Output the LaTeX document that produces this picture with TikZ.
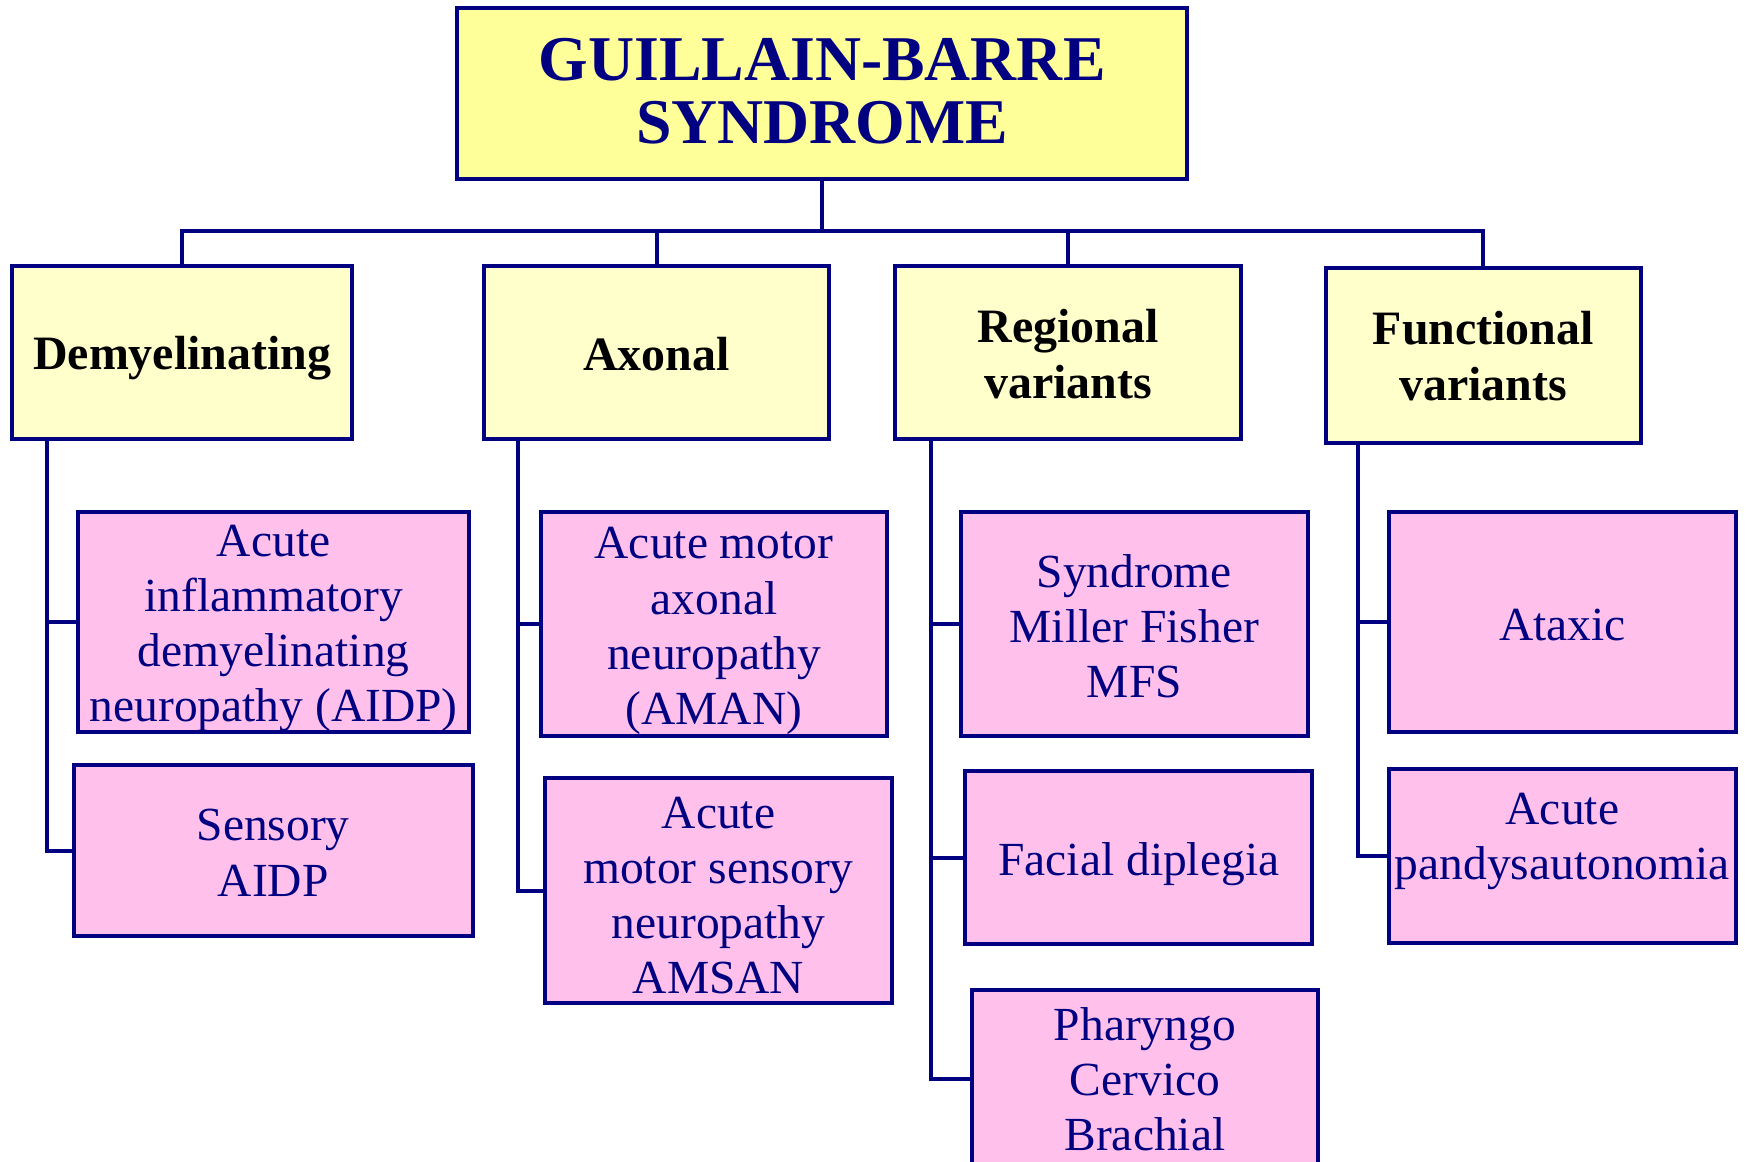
\documentclass[tikz,border=0pt]{standalone}
\usepackage{fontspec}
\setmainfont{Liberation Serif}
\definecolor{navy}{RGB}{0,0,128}
\definecolor{titlefill}{RGB}{255,255,153}
\definecolor{headfill}{RGB}{255,255,204}
\definecolor{pinkfill}{RGB}{255,193,235}
\tikzset{
  basebox/.style={draw=navy, line width=1.8pt, rectangle, inner sep=0pt},
  titlebox/.style={basebox, fill=titlefill},
  headbox/.style={basebox, fill=headfill},
  pinkbox/.style={basebox, fill=pinkfill},
  titletext/.style={text=navy, align=center, inner sep=0pt, font=\fontsize{28.6}{28}\selectfont\bfseries},
  headtext/.style={text=black, align=center, inner sep=0pt, font=\fontsize{21.5}{25}\selectfont\bfseries},
  pinktext/.style={text=navy, align=center, inner sep=0pt, font=\fontsize{21.3}{24.7}\selectfont},
  conn/.style={draw=navy, line width=1.8pt, line join=miter}
}
\begin{document}
\begin{tikzpicture}[x=0.5pt, y=-0.5pt]
\useasboundingbox (0,0) rectangle (1568,1042);
\fill[white] (0,0) rectangle (1568,1042);

% title
\node[titlebox, minimum width=327.5pt, minimum height=77pt] (title) at (737.5,84) {};
\node[titletext] (titleT) at (737.5,82) {GUILLAIN-BARRE\\SYNDROME};

% headers
\node[headbox, minimum width=152.5pt, minimum height=77.5pt] (h1) at (163.5,316.5) {};
\node[headbox, minimum width=155pt, minimum height=77.5pt] (h2) at (589,316.5) {};
\node[headbox, minimum width=155pt, minimum height=77.5pt] (h3) at (958,316.5) {};
\node[headbox, minimum width=141.5pt, minimum height=78.5pt] (h4) at (1330.5,318.5) {};
\node[headtext] (h1T) at (163.5,321) {Demyelinating};
\node[headtext] (h2T) at (589,318) {Axonal};
\node[headtext] (h3T) at (958,317.5) {Regional\\variants};
\node[headtext] (h4T) at (1330.5,319.5) {Functional\\variants};

% bus
\coordinate (bus) at (737.5,207);
\draw[conn] (title.south) -- (bus);
\draw[conn] (h1.north) |- (bus);
\draw[conn] (h2.north) |- (bus);
\draw[conn] (h3.north) |- (bus);
\draw[conn] (h4.north) |- (bus);

% column 1
\node[pinkbox, minimum width=175.5pt, minimum height=99pt] (aidp) at (245.5,558) {};
\node[pinkbox, minimum width=179pt, minimum height=77pt] (sens) at (245,763) {};
\node[pinktext] (aidpT) at (245.5,564) {Acute\\inflammatory\\demyelinating\\neuropathy (AIDP)};
\node[pinktext] (sensT) at (245,765) {Sensory\\AIDP};
\coordinate (d1) at (42,394);
\draw[conn] (d1) |- (aidp.west);
\draw[conn] (d1) |- (sens.west);

% column 2
\node[pinkbox, minimum width=155.5pt, minimum height=100.5pt] (aman) at (640.5,559.5) {};
\node[pinkbox, minimum width=155.5pt, minimum height=101pt] (amsan) at (644.5,799) {};
\node[pinktext] (amanT) at (640.5,566) {Acute motor\\axonal\\neuropathy\\(AMAN)};
\node[pinktext] (amsanT) at (644.5,803) {Acute\\motor sensory\\neuropathy\\AMSAN};
\coordinate (d2) at (465,394);
\draw[conn] (d2) |- (aman.west);
\draw[conn] (d2) |- (amsan.west);

% column 3
\node[pinkbox, minimum width=155.5pt, minimum height=100.5pt] (mfs) at (1017.5,559.5) {};
\node[pinkbox, minimum width=155.5pt, minimum height=77.5pt] (facial) at (1021.5,769.5) {};
\node[pinkbox, minimum width=155pt, minimum height=80pt] (phar) at (1027,968) {};
\node[pinktext] (mfsT) at (1017.5,561.5) {Syndrome\\Miller Fisher\\MFS};
\node[pinktext] (facialT) at (1021.5,775) {Facial diplegia};
\node[pinktext] (pharT) at (1027,968) {Pharyngo\\Cervico\\Brachial};
\coordinate (d3) at (835,394);
\draw[conn] (d3) |- (mfs.west);
\draw[conn] (d3) |- (facial.west);
\draw[conn] (d3) |- (phar.west);

% column 4
\node[pinkbox, minimum width=155.5pt, minimum height=99pt] (atax) at (1401.5,558) {};
\node[pinkbox, minimum width=155.5pt, minimum height=78pt] (pandys) at (1401.5,768) {};
\node[pinktext] (ataxT) at (1401.5,561) {Ataxic};
\node[pinktext] (pandysT) at (1401.5,755) {Acute\\pandysautonomia};
\coordinate (d4) at (1218,397);
\draw[conn] (d4) |- (atax.west);
\draw[conn] (d4) |- (pandys.west);
\end{tikzpicture}
\end{document}
